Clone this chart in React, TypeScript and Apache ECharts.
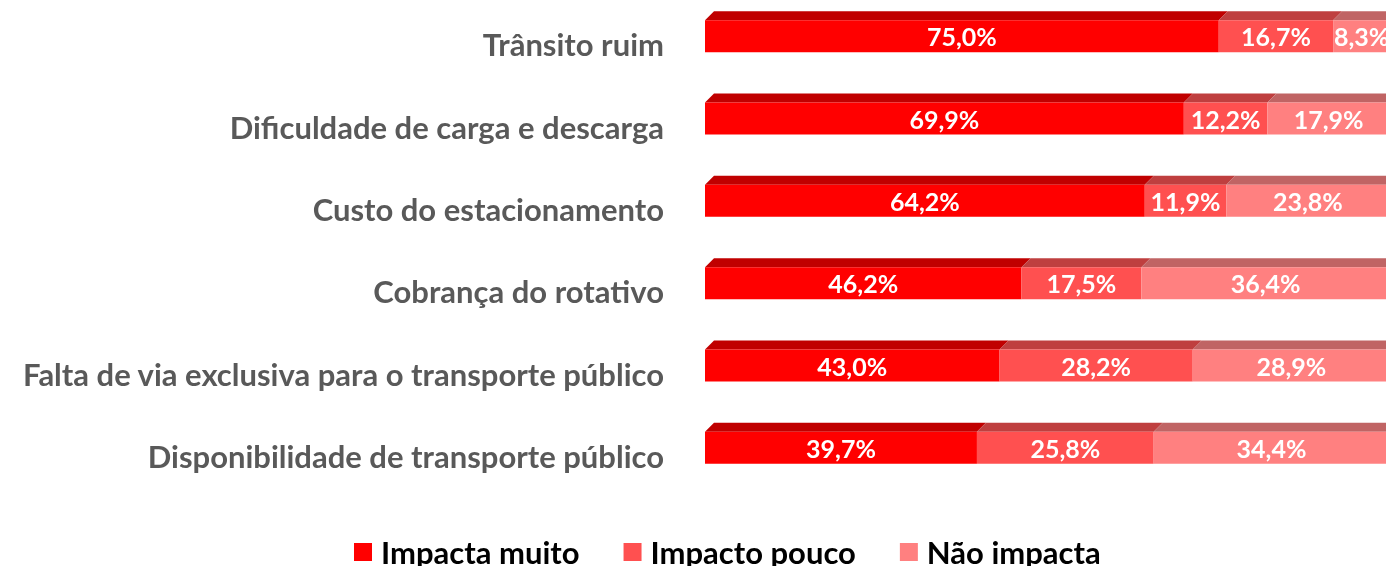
import React, { useEffect, useRef } from "react";
import * as echarts from "echarts";

const categories = [
  "Trânsito ruim",
  "Dificuldade de carga e descarga",
  "Custo do estacionamento",
  "Cobrança do rotativo",
  "Falta de via exclusiva para o transporte público",
  "Disponibilidade de transporte público",
];
const impactaMuito = [75.0, 69.9, 64.2, 46.2, 43.0, 39.7];
const impactoPouco = [16.7, 12.2, 11.9, 17.5, 28.2, 25.8];
const naoImpacta = [8.3, 17.9, 23.8, 36.4, 28.9, 34.4];
const seriesNames = ["Impacta muito", "Impacto pouco", "Não impacta"];

const frontColors = ["#FF0000", "#FF5050", "#FF8080"];
const topColors = ["#C00000", "#BF3F3F", "#C06464"];
const FONT = "Lato";
const BAR_H = 32;
const DEPTH = 9;

export default function App() {
  const ref = useRef<HTMLDivElement>(null);
  useEffect(() => {
    if (!ref.current) return;
    const chart = echarts.init(ref.current, null, { renderer: "svg" });
    const all = [impactaMuito, impactoPouco, naoImpacta];
    const topData: any[] = [];
    categories.forEach((_, i) => {
      let acc = 0;
      all.forEach((arr, s) => {
        topData.push({ value: [acc, i, acc + arr[i], s] });
        acc += arr[i];
      });
    });
    const fmt = (p: any) => p.value.toFixed(1).replace(".", ",") + "%";
    const bars = all.map((arr, s) => ({
      name: seriesNames[s],
      type: "bar",
      stack: "total",
      data: arr,
      barWidth: BAR_H,
      itemStyle: { color: frontColors[s] },
      label: {
        show: true,
        position: "inside",
        formatter: fmt,
        color: "#FFFFFF",
        fontFamily: FONT,
        fontWeight: "bold",
        fontSize: 25,
      },
    }));
    chart.setOption({
      animation: false,
      grid: {
        left: 705,
        right: -4,
        top: -5,
        height: 494,
        containLabel: false,
        outerBoundsMode: "none",
      },
      xAxis: {
        type: "value",
        min: 0,
        max: 100,
        show: false,
      },
      yAxis: {
        type: "category",
        data: categories,
        inverse: true,
        axisLine: { show: false },
        axisTick: { show: false },
        axisLabel: {
          margin: 41,
          color: "#595959",
          fontFamily: FONT,
          fontWeight: "bold",
          fontSize: 31,
          verticalAlign: "top",
          lineHeight: 16,
        },
      },
      legend: {
        data: seriesNames,
        top: 531,
        left: 349,
        icon: "rect",
        itemWidth: 18,
        itemHeight: 18,
        itemGap: 44,
        textStyle: {
          color: "#000000",
          fontFamily: FONT,
          fontWeight: "bold",
          fontSize: 31,
          lineHeight: 32,
          padding: [0, 0, 0, 4],
        },
      },
      series: [
        ...bars,
        {
          type: "custom",
          name: "top",
          silent: true,
          data: topData,
          encode: { x: [0, 2], y: 1 },
          renderItem: (params: any, api: any) => {
            const p0 = api.coord([api.value(0), api.value(1)]);
            const p1 = api.coord([api.value(2), api.value(1)]);
            const s = api.value(3);
            const yTop = p0[1] - BAR_H / 2;
            return {
              type: "polygon",
              shape: {
                points: [
                  [p0[0], yTop],
                  [p0[0] + DEPTH, yTop - DEPTH],
                  [p1[0] + DEPTH, yTop - DEPTH],
                  [p1[0], yTop],
                ],
              },
              style: { fill: topColors[s] },
            };
          },
        },
      ],
    });
    return () => chart.dispose();
  }, []);
  return (
    <div
      ref={ref}
      style={{ position: "fixed", left: 0, top: 0, width: 1386, height: 566 }}
    />
  );
}
